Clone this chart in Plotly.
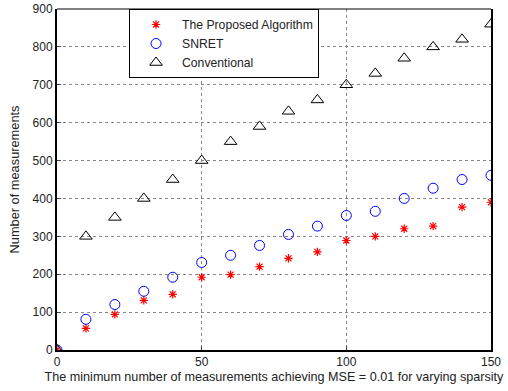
import plotly.graph_objects as go

sparsity = [0, 10, 20, 30, 40, 50, 60, 70, 80, 90, 100, 110, 120, 130, 140, 150]
proposed = [0, 57, 94, 131, 147, 192, 199, 220, 242, 259, 289, 300, 320, 327, 377, 390]
snret = [0, 81, 120, 155, 192, 231, 250, 276, 305, 327, 355, 366, 400, 427, 450, 461]
conventional = [0, 300, 350, 400, 450, 500, 550, 590, 630, 660, 700, 730, 770, 800, 820, 860]

x_ticks = [0, 50, 100, 150]
y_ticks = [0, 100, 200, 300, 400, 500, 600, 700, 800, 900]

fig = go.Figure()
fig.add_trace(go.Scatter(x=sparsity, y=proposed, mode="markers", name="The Proposed Algorithm",
                         marker=dict(symbol="asterisk-open", size=7, color="red",
                                     line=dict(color="red", width=1.2))))
fig.add_trace(go.Scatter(x=sparsity, y=snret, mode="markers", name="SNRET",
                         marker=dict(symbol="circle-open", size=10, color="blue",
                                     line=dict(color="blue", width=1))))
fig.add_trace(go.Scatter(x=sparsity, y=conventional, mode="markers", name="Conventional",
                         marker=dict(symbol="triangle-up-open", size=11, color="black",
                                     line=dict(color="black", width=1))))

fig.update_layout(
    width=508, height=391,
    margin=dict(l=57, r=17, t=9, b=41, autoexpand=False),
    paper_bgcolor="white", plot_bgcolor="white",
    font=dict(family="Liberation Sans, Arial, sans-serif", size=12, color="#222222"),
    showlegend=True,
    legend=dict(x=0.166, y=1.0, xanchor="left", yanchor="top",
                bgcolor="white", bordercolor="black", borderwidth=1,
                font=dict(size=12.2, color="#222222"), itemwidth=42, tracegroupgap=0),
    xaxis=dict(range=[0, 150], tickvals=x_ticks, ticks="inside", ticklen=4,
               showline=True, linecolor="black", linewidth=2, mirror=False,
               showgrid=True, gridcolor="#888888", griddash="dot", gridwidth=1,
               zeroline=False, tickfont=dict(size=12), automargin=False,
               title=dict(text="The minimum number of measurements achieving MSE = 0.01 for varying sparsity",
                          standoff=4, font=dict(size=12.6))),
    yaxis=dict(range=[0, 900], tickvals=y_ticks, ticks="inside", ticklen=4,
               showline=True, linecolor="black", linewidth=2, mirror=True,
               showgrid=True, gridcolor="#888888", griddash="dot", gridwidth=1,
               zeroline=False, tickfont=dict(size=12), automargin=False,
               title=dict(text="Number of measurements", standoff=10, font=dict(size=12.8))),
    shapes=[dict(type="line", xref="paper", yref="paper", x0=0, x1=1, y0=1, y1=1,
                 line=dict(color="black", width=1))],
)

fig.write_html("out.html", config={"displayModeBar": False},
               post_script="document.body.style.margin='0';")
